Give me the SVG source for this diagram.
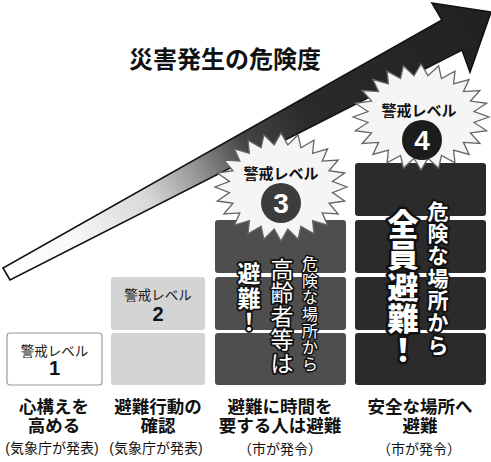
<svg xmlns="http://www.w3.org/2000/svg" width="491" height="462" viewBox="0 0 491 462">
<style>
text{font-family:"Liberation Sans","Noto Sans CJK JP",sans-serif;text-anchor:middle}
.title{font-size:24px;font-weight:bold;fill:#111}
.lv{font-size:13.5px;fill:#222}
.num{font-size:20px;font-weight:bold;fill:#111}
.slv{font-size:15px;font-weight:bold;fill:#111}
.cnum{font-size:28px;font-weight:bold;fill:#fff}
.lab{font-size:17.5px;font-weight:bold;fill:#111}
.src{font-size:14px;fill:#111}
.vt{fill:#fff;stroke:#111;stroke-linejoin:round;paint-order:stroke}
.star{fill:#f5f5f5;stroke:#666;stroke-width:1.3}
</style>
<defs>
<linearGradient id="ag" gradientUnits="userSpaceOnUse" x1="0" y1="275" x2="470" y2="20">
<stop offset="0" stop-color="#fff"/>
<stop offset="0.15" stop-color="#f8f8f8"/>
<stop offset="0.31" stop-color="#d8d8d8"/>
<stop offset="0.41" stop-color="#999"/>
<stop offset="0.52" stop-color="#444"/>
<stop offset="0.65" stop-color="#2a2a2a"/>
<stop offset="1" stop-color="#222"/>
</linearGradient>
<polygon id="burst" vector-effect="non-scaling-stroke" points="1,0 .78,.103 .966,.259 .727,.301 .866,.5 .624,.479 .707,.707 .479,.624 .5,.866 .301,.727 .259,.966 .103,.78 0,1 -.103,.78 -.259,.966 -.301,.727 -.5,.866 -.479,.624 -.707,.707 -.624,.479 -.866,.5 -.727,.301 -.966,.259 -.78,.103 -1,0 -.78,-.103 -.966,-.259 -.727,-.301 -.866,-.5 -.624,-.479 -.707,-.707 -.479,-.624 -.5,-.866 -.301,-.727 -.259,-.966 -.103,-.78 0,-1 .103,-.78 .259,-.966 .301,-.727 .5,-.866 .479,-.624 .707,-.707 .624,-.479 .866,-.5 .727,-.301 .966,-.259 .78,-.103"/>
</defs>
<rect width="491" height="462" fill="#fff"/>

<g id="connectors">
<polygon id="risk-arrow" points="3,268 10,280 462,50 470,72 491,12 432,3 442,20" fill="url(#ag)" stroke="#111" stroke-width="1.6" stroke-linejoin="miter"/>
</g>

<g id="title"><text class="title" x="225" y="68">災害発生の危険度</text></g>

<g id="level1">
<rect x="7" y="333" width="95" height="52" rx="3" fill="#fff" stroke="#999" stroke-width="1.2"/>
<text class="lv" x="54.5" y="356">警戒レベル</text>
<text class="num" x="54.5" y="375">1</text>
<text class="lab" x="54" y="412.5">心構えを</text>
<text class="lab" x="54" y="431.5">高める</text>
<text class="src" x="52" y="453">(気象庁が発表)</text>
</g>

<g id="level2">
<rect x="111" y="277" width="94" height="53" rx="3" fill="#d4d4d4"/>
<rect x="111" y="333" width="94" height="52" rx="3" fill="#d4d4d4"/>
<text class="lv" x="158" y="300">警戒レベル</text>
<text class="num" x="158" y="320.5">2</text>
<text class="lab" x="158" y="412.5">避難行動の</text>
<text class="lab" x="158" y="431.5">確認</text>
<text class="src" x="156" y="453">(気象庁が発表)</text>
</g>

<g id="level3">
<rect x="215" y="220" width="131" height="53" rx="3" fill="#4e4e4e"/>
<rect x="215" y="277" width="131" height="53" rx="3" fill="#4e4e4e"/>
<rect x="215" y="333" width="131" height="52" rx="3" fill="#4e4e4e"/>
<use href="#burst" class="star" transform="translate(281,187) scale(66,54)"/>
<text class="slv" x="281" y="179">警戒レベル</text>
<circle cx="281" cy="203" r="20" fill="#3c3c3c"/>
<text class="cnum" x="281" y="213">3</text>
<text class="vt" font-size="16" stroke-width="3">
<tspan x="310" y="270">危</tspan><tspan x="310" y="286.5">険</tspan><tspan x="310" y="303">な</tspan><tspan x="310" y="320">場</tspan><tspan x="310" y="336.5">所</tspan><tspan x="310" y="353">か</tspan><tspan x="310" y="370">ら</tspan>
</text>
<text class="vt" font-size="23" stroke-width="3.5">
<tspan x="282" y="278">高</tspan><tspan x="282" y="301">齢</tspan><tspan x="282" y="325">者</tspan><tspan x="282" y="348">等</tspan><tspan x="282" y="372">は</tspan>
</text>
<text class="vt" font-size="23" font-weight="bold" stroke-width="3.5">
<tspan x="249" y="282">避</tspan><tspan x="249" y="307">難</tspan><tspan x="249" y="330">！</tspan>
</text>
<text class="lab" x="280" y="412.5">避難に時間を</text>
<text class="lab" x="280" y="431.5">要する人は避難</text>
<text class="src" x="280" y="453.5" font-size="15.5">（市が発令）</text>
</g>

<g id="level4">
<rect x="355" y="163" width="131" height="53" rx="3" fill="#2b2b2b"/>
<rect x="355" y="220" width="131" height="53" rx="3" fill="#2b2b2b"/>
<rect x="355" y="277" width="131" height="53" rx="3" fill="#2b2b2b"/>
<rect x="355" y="333" width="131" height="52" rx="3" fill="#2b2b2b"/>
<use href="#burst" class="star" transform="translate(421,117) scale(68,53)"/>
<text class="slv" x="419" y="116">警戒レベル</text>
<circle cx="422" cy="140" r="20" fill="#1c1c1c"/>
<text class="cnum" x="422" y="150">4</text>
<text class="vt" font-size="21" font-weight="bold" stroke-width="4">
<tspan x="438" y="218.5">危</tspan><tspan x="438" y="240.5">険</tspan><tspan x="438" y="263">な</tspan><tspan x="438" y="285.5">場</tspan><tspan x="438" y="307.5">所</tspan><tspan x="438" y="330">か</tspan><tspan x="438" y="352.5">ら</tspan>
</text>
<text class="vt" font-size="31" font-weight="900" stroke-width="5">
<tspan x="403" y="236">全</tspan><tspan x="403" y="267">員</tspan><tspan x="403" y="299">避</tspan><tspan x="403" y="330">難</tspan><tspan x="403" y="361">！</tspan>
</text>
<text class="lab" x="420" y="412.5">安全な場所へ</text>
<text class="lab" x="420" y="431.5">避難</text>
<text class="src" x="419" y="453.5" font-size="15.5">（市が発令）</text>
</g>
</svg>
